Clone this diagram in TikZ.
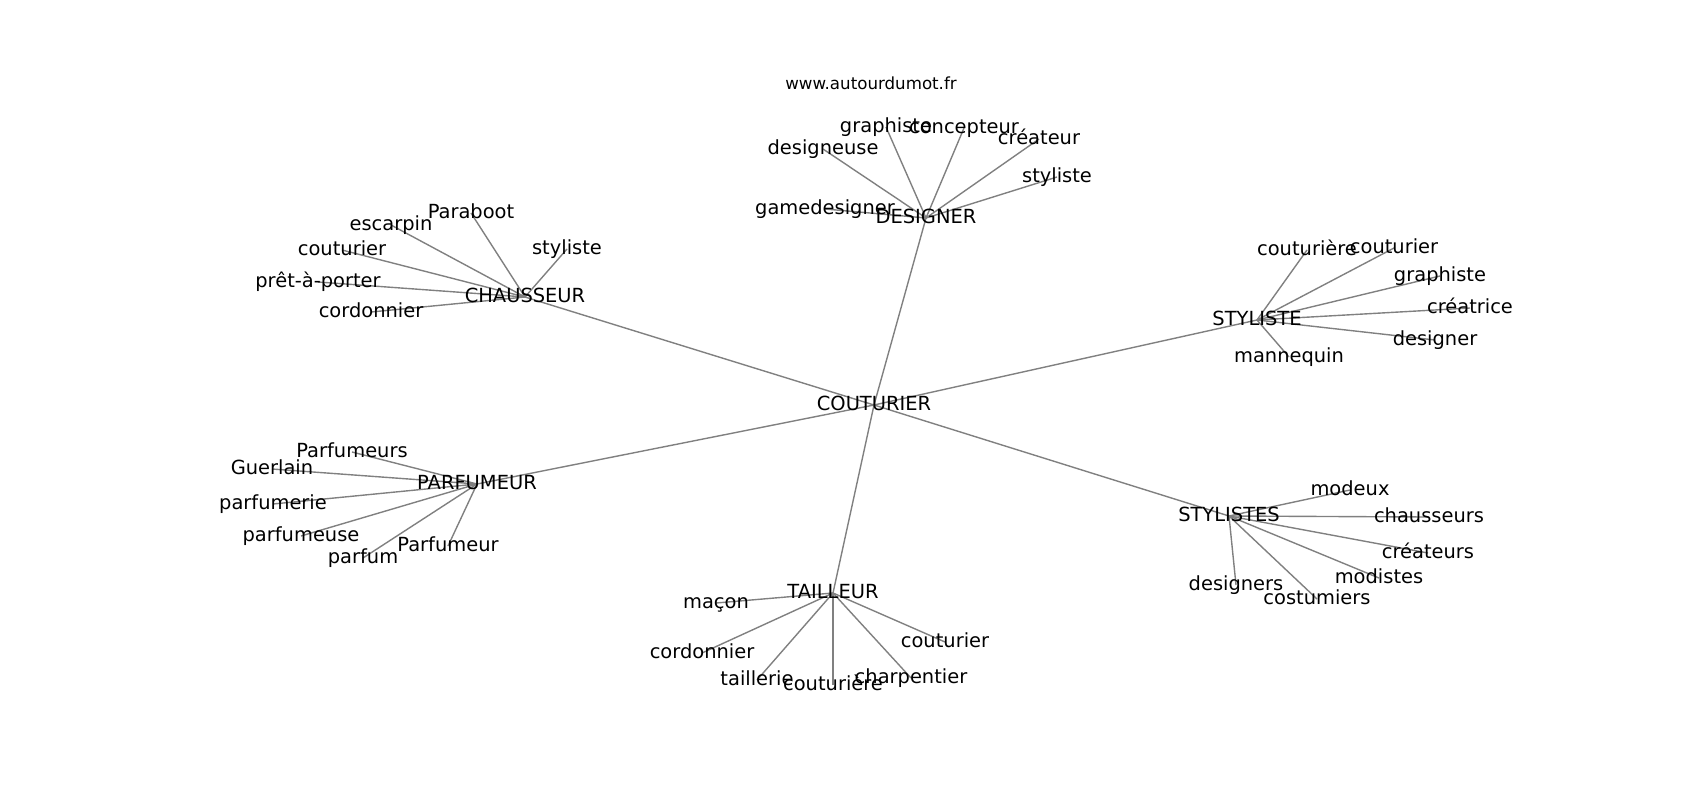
\documentclass[tikz,border=0pt]{standalone}
\usepackage{fontspec}
\setmainfont{DejaVu Sans}
\begin{document}
\begin{tikzpicture}[x=0.72pt,y=-0.72pt,
  lbl/.style={inner sep=0pt,text height=10.6pt,text depth=3.4pt,font=\fontsize{14}{16}\selectfont,text=black},
  ttl/.style={inner sep=0pt,font=\fontsize{12}{14}\selectfont,text=black},
  edge/.style={draw=black!50,line width=1pt}]
\useasboundingbox[fill=white] (0,0) rectangle (1700,800);
% hubs
\coordinate (cou) at (874,405);
\coordinate (des) at (926,218);
\coordinate (cha) at (525,297);
\coordinate (sty) at (1257,320);
\coordinate (par) at (477,484);
\coordinate (sts) at (1229,516);
\coordinate (tai) at (833,593);
% leaves
\coordinate (d1) at (886,127);
\coordinate (d2) at (964,128);
\coordinate (d3) at (1039,139);
\coordinate (d4) at (1057,177);
\coordinate (d5) at (823,149);
\coordinate (d6) at (825,209);
\coordinate (c1) at (471,213);
\coordinate (c2) at (391,225);
\coordinate (c3) at (567,249);
\coordinate (c4) at (342,250);
\coordinate (c5) at (318,282);
\coordinate (c6) at (371,312);
\coordinate (s1) at (1307,250);
\coordinate (s2) at (1394,248);
\coordinate (s3) at (1440,276);
\coordinate (s4) at (1470,308);
\coordinate (s5) at (1435,340);
\coordinate (s6) at (1289,357);
\coordinate (p1) at (352,452);
\coordinate (p2) at (272,469);
\coordinate (p3) at (273,504);
\coordinate (p4) at (301,536);
\coordinate (p5) at (363,558);
\coordinate (p6) at (448,546);
\coordinate (t1) at (1350,490);
\coordinate (t2) at (1429,517);
\coordinate (t3) at (1428,553);
\coordinate (t4) at (1379,578);
\coordinate (t5) at (1236,585);
\coordinate (t6) at (1317,599);
\coordinate (a1) at (716,603);
\coordinate (a2) at (702,653);
\coordinate (a3) at (945,642);
\coordinate (a4) at (757,680);
\coordinate (a5) at (833,685);
\coordinate (a6) at (911,678);
% edges
\foreach \h in {des,cha,sty,par,sts,tai} \draw[edge] (cou) -- (\h);
\foreach \l in {d1,d2,d3,d4,d5,d6} \draw[edge] (des) -- (\l);
\foreach \l in {c1,c2,c3,c4,c5,c6} \draw[edge] (cha) -- (\l);
\foreach \l in {s1,s2,s3,s4,s5,s6} \draw[edge] (sty) -- (\l);
\foreach \l in {p1,p2,p3,p4,p5,p6} \draw[edge] (par) -- (\l);
\foreach \l in {t1,t2,t3,t4,t5,t6} \draw[edge] (sts) -- (\l);
\foreach \l in {a1,a2,a3,a4,a5,a6} \draw[edge] (tai) -- (\l);
% labels
\node[ttl] (title) at (871,83) {www.autourdumot.fr};
\node[lbl] (Lcou) at (cou) {COUTURIER};
\node[lbl] (Ldes) at (des) {DESIGNER};
\node[lbl] (Lcha) at (cha) {CHAUSSEUR};
\node[lbl] (Lsty) at (sty) {STYLISTE};
\node[lbl] (Lpar) at (par) {PARFUMEUR};
\node[lbl] (Lsts) at (sts) {STYLISTES};
\node[lbl] (Ltai) at (tai) {TAILLEUR};
\node[lbl] (Ld1) at (d1) {graphiste};
\node[lbl] (Ld2) at (d2) {concepteur};
\node[lbl] (Ld3) at (d3) {créateur};
\node[lbl] (Ld4) at (d4) {styliste};
\node[lbl] (Ld5) at (d5) {designeuse};
\node[lbl] (Ld6) at (d6) {gamedesigner};
\node[lbl] (Lc1) at (c1) {Paraboot};
\node[lbl] (Lc2) at (c2) {escarpin};
\node[lbl] (Lc3) at (c3) {styliste};
\node[lbl] (Lc4) at (c4) {couturier};
\node[lbl] (Lc5) at (c5) {prêt-à-porter};
\node[lbl] (Lc6) at (c6) {cordonnier};
\node[lbl] (Ls1) at (s1) {couturière};
\node[lbl] (Ls2) at (s2) {couturier};
\node[lbl] (Ls3) at (s3) {graphiste};
\node[lbl] (Ls4) at (s4) {créatrice};
\node[lbl] (Ls5) at (s5) {designer};
\node[lbl] (Ls6) at (s6) {mannequin};
\node[lbl] (Lp1) at (p1) {Parfumeurs};
\node[lbl] (Lp2) at (p2) {Guerlain};
\node[lbl] (Lp3) at (p3) {parfumerie};
\node[lbl] (Lp4) at (p4) {parfumeuse};
\node[lbl] (Lp5) at (p5) {parfum};
\node[lbl] (Lp6) at (p6) {Parfumeur};
\node[lbl] (Lt1) at (t1) {modeux};
\node[lbl] (Lt2) at (t2) {chausseurs};
\node[lbl] (Lt3) at (t3) {créateurs};
\node[lbl] (Lt4) at (t4) {modistes};
\node[lbl] (Lt5) at (t5) {designers};
\node[lbl] (Lt6) at (t6) {costumiers};
\node[lbl] (La1) at (a1) {maçon};
\node[lbl] (La2) at (a2) {cordonnier};
\node[lbl] (La3) at (a3) {couturier};
\node[lbl] (La4) at (a4) {taillerie};
\node[lbl] (La5) at (a5) {couturière};
\node[lbl] (La6) at (a6) {charpentier};
\end{tikzpicture}
\end{document}
